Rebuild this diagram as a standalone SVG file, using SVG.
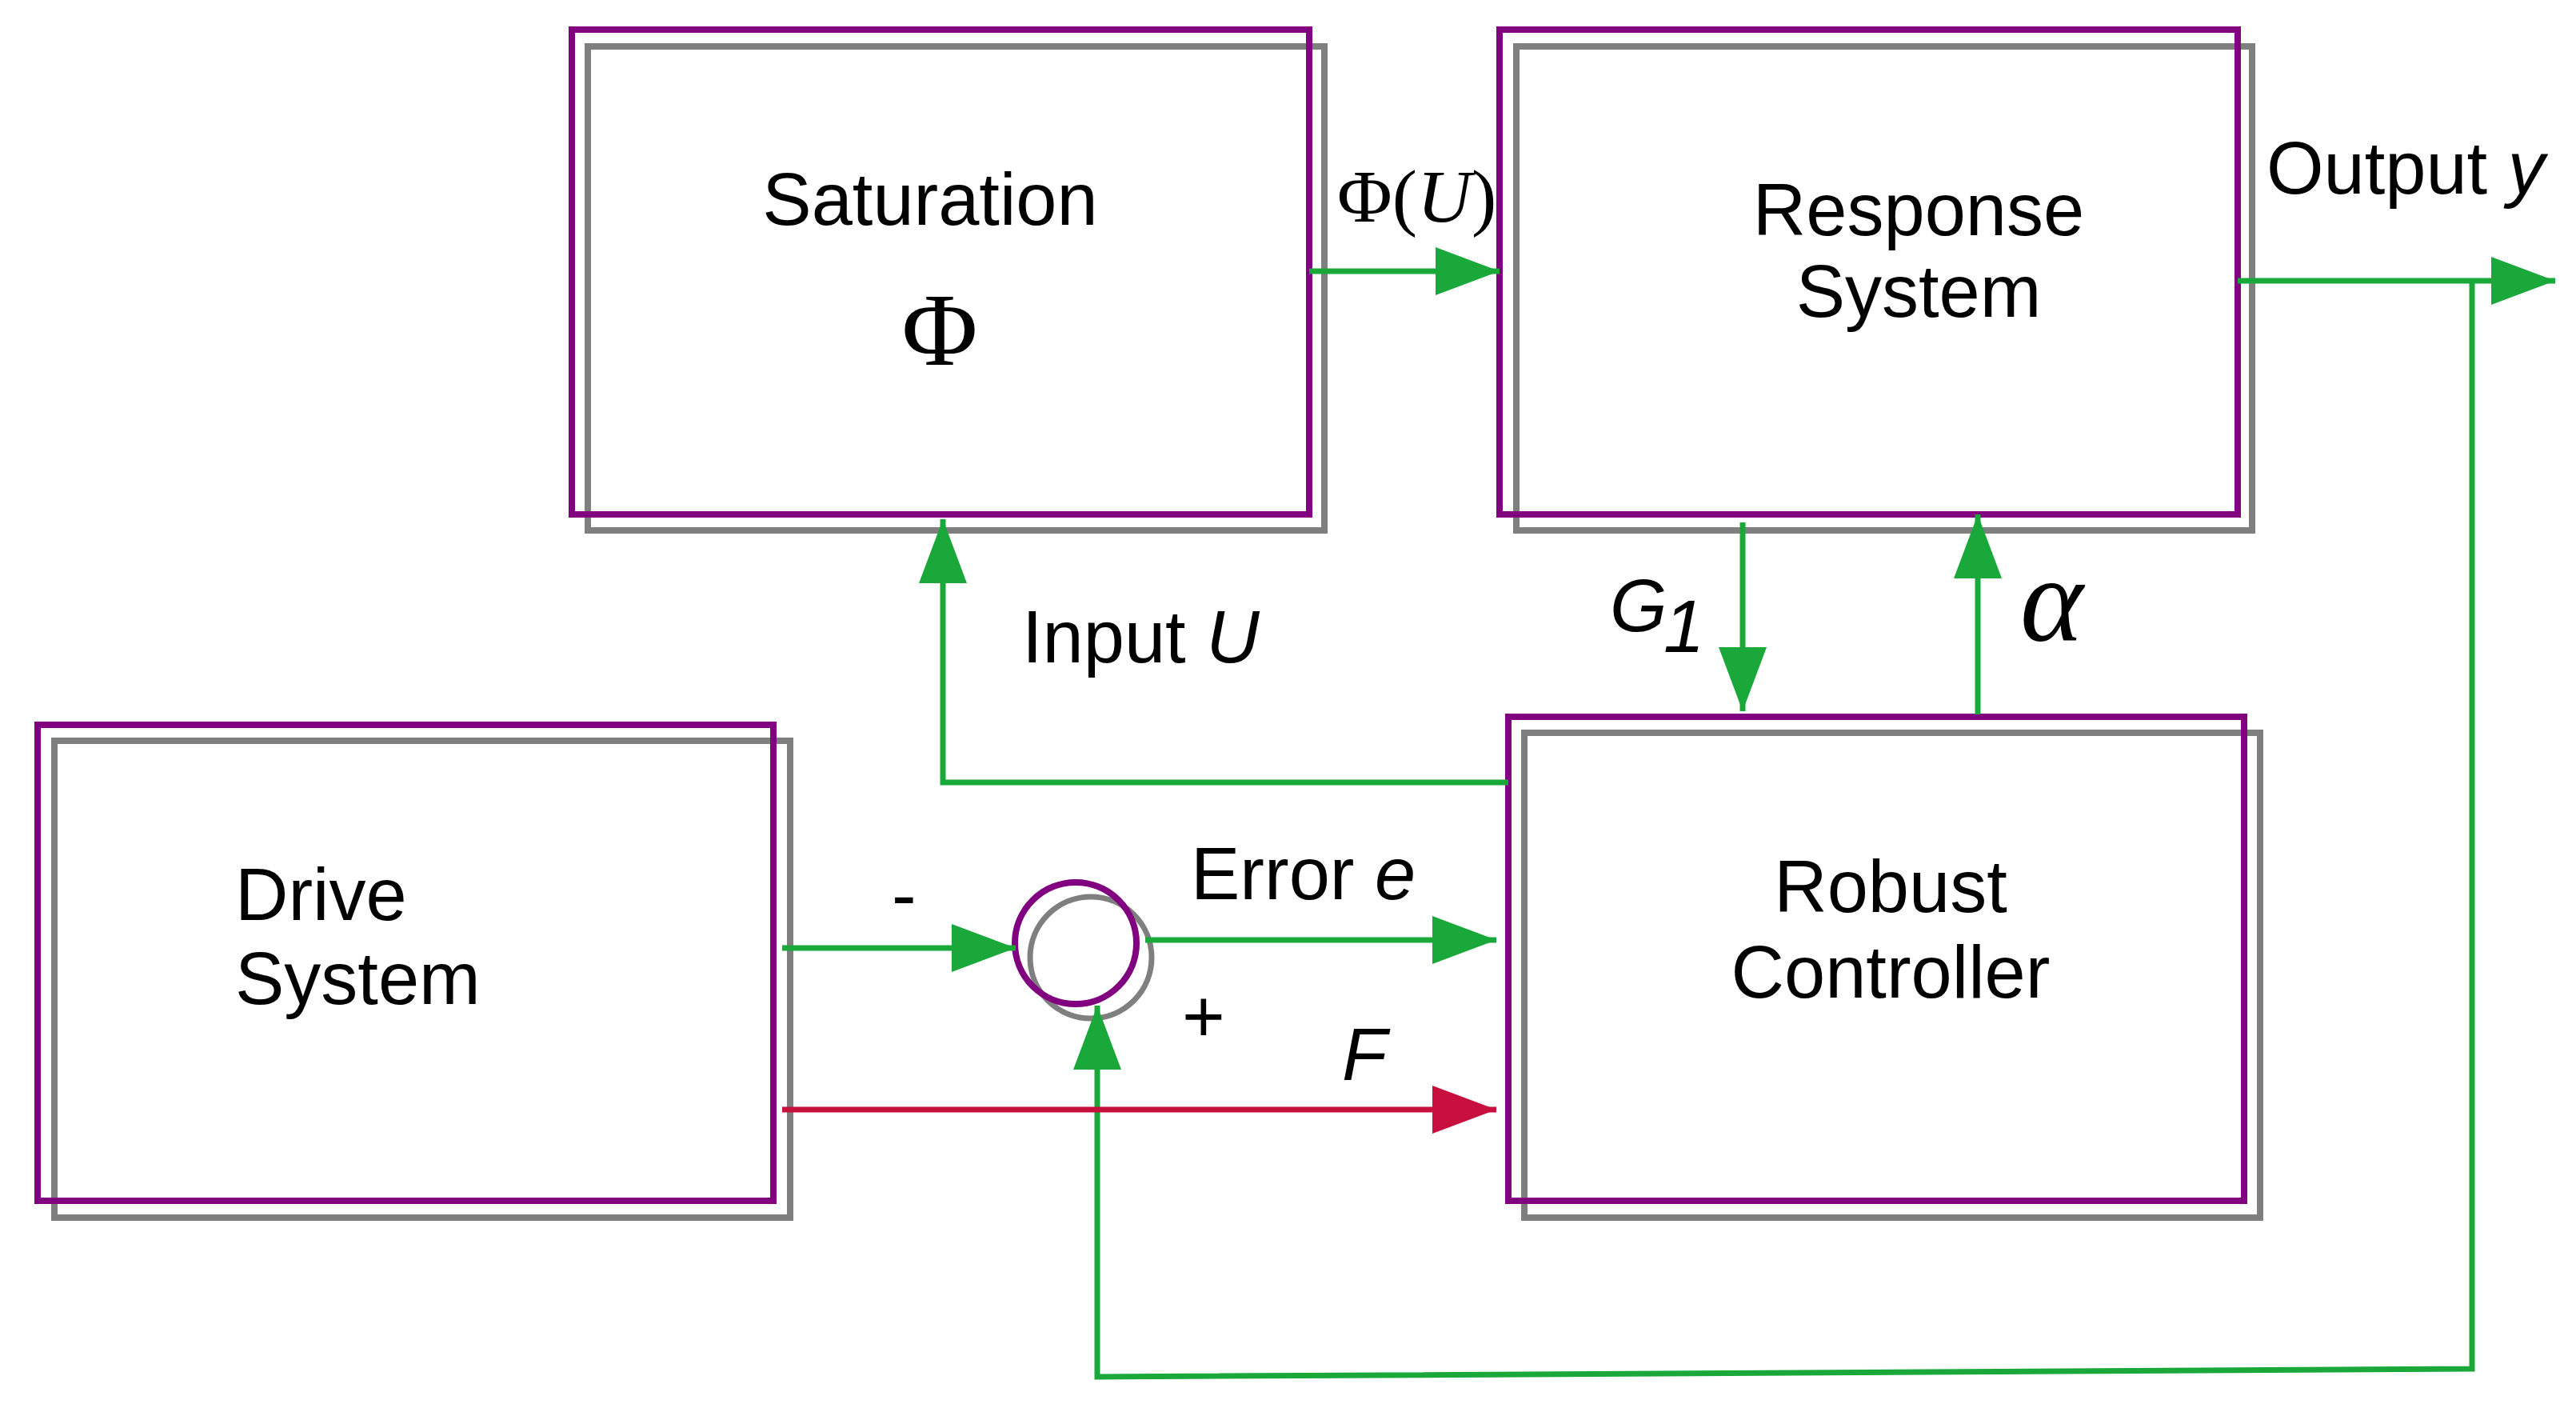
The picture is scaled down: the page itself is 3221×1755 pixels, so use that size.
<svg xmlns="http://www.w3.org/2000/svg" width="3221" height="1755" viewBox="0 0 3221 1755">
<style>
.g{fill:none;stroke:#7f7f7f;stroke-width:8}
.p{fill:none;stroke:#800080;stroke-width:8}
.t{font-family:"Liberation Sans",Arial,sans-serif;font-size:92px;fill:#000}
.m{font-family:"Liberation Serif","Times New Roman",serif;fill:#000}
.c{fill:none;stroke:#1aa83a;stroke-width:7}
</style>
<defs>
<marker id="ag" markerUnits="userSpaceOnUse" markerWidth="84" markerHeight="64" refX="80" refY="30" orient="auto"><path d="M0,0 L80,30 L0,60 Z" fill="#1aa83a"/></marker>
<marker id="ar" markerUnits="userSpaceOnUse" markerWidth="84" markerHeight="64" refX="80" refY="30" orient="auto"><path d="M0,0 L80,30 L0,60 Z" fill="#c8103f"/></marker>
</defs>
<rect width="3221" height="1755" fill="#fff"/>
<g id="saturation">
<rect class="g" x="735" y="58" width="921" height="605"/>
<rect class="p" x="715" y="37" width="922" height="606"/>
<text class="t" x="1163" y="281" text-anchor="middle">Saturation</text>
<text class="m" x="1175" y="456" font-size="130" text-anchor="middle">Φ</text>
</g>
<g id="response">
<rect class="g" x="1896" y="58" width="920" height="605"/>
<rect class="p" x="1875" y="37" width="923" height="606"/>
<text class="t" x="2399" y="294" text-anchor="middle">Response</text>
<text class="t" x="2399" y="396" text-anchor="middle">System</text>
</g>
<g id="drive">
<rect class="g" x="68" y="926" width="920" height="596"/>
<rect class="p" x="47" y="906" width="920" height="595"/>
<text class="t" x="294" y="1150">Drive</text>
<text class="t" x="294" y="1255">System</text>
</g>
<g id="robust">
<rect class="g" x="1906" y="916" width="920" height="606"/>
<rect class="p" x="1886" y="896" width="920" height="605"/>
<text class="t" x="2364" y="1140" text-anchor="middle">Robust</text>
<text class="t" x="2364" y="1247" text-anchor="middle">Controller</text>
</g>
<g id="sum">
<circle cx="1364" cy="1197" r="76" fill="none" stroke="#7f7f7f" stroke-width="7"/>
<circle cx="1345" cy="1179" r="76" fill="none" stroke="#800080" stroke-width="8"/>
</g>
<g id="connectors">
<line class="c" x1="1637" y1="339" x2="1875" y2="339" marker-end="url(#ag)"/>
<line class="c" x1="2798" y1="351" x2="3195" y2="351" marker-end="url(#ag)"/>
<polyline class="c" points="3091,351 3091,1711 1372,1721 1372,1257" marker-end="url(#ag)"/>
<line class="c" x1="2179" y1="653" x2="2179" y2="889" marker-end="url(#ag)"/>
<line class="c" x1="2473" y1="893" x2="2473" y2="643" marker-end="url(#ag)"/>
<polyline class="c" points="1886,978 1179,978 1179,649" marker-end="url(#ag)"/>
<line class="c" x1="978" y1="1185" x2="1270" y2="1185" marker-end="url(#ag)"/>
<line class="c" x1="1432" y1="1175" x2="1871" y2="1175" marker-end="url(#ag)"/>
<line x1="978" y1="1387" x2="1871" y2="1387" stroke="#c8103f" stroke-width="7" marker-end="url(#ar)"/>
</g>
<g id="labels">
<text class="m" x="1672" y="277" font-size="94">Φ(<tspan font-style="italic">U</tspan>)</text>
<text class="t" x="2834" y="242" font-size="78">Output <tspan font-style="italic">y</tspan></text>
<text class="t" x="1278" y="828" font-size="82">Input <tspan font-style="italic">U</tspan></text>
<text class="t" x="2013" y="789" font-size="78" font-style="italic">G</text>
<text class="t" x="2080" y="815" font-size="40" font-style="italic">1</text>
<text class="m" x="2526" y="801" font-size="150" font-style="italic">α</text>
<text class="t" x="1489" y="1124" font-size="82">Error <tspan font-style="italic">e</tspan></text>
<text class="t" x="1115" y="1150" font-size="70">-</text>
<text class="t" x="1478" y="1302" font-size="70">+</text>
<text class="t" x="1678" y="1350" font-size="82" font-style="italic">F</text>
</g>
</svg>
